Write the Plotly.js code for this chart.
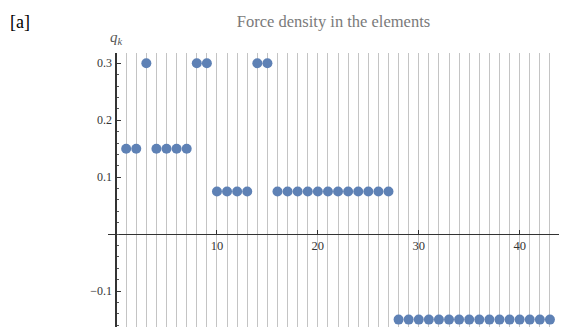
<!DOCTYPE html>
<html>
<head>
<meta charset="utf-8">
<script src="https://cdn.plot.ly/plotly-3.0.1.min.js"></script>
<style>html,body{margin:0;padding:0;background:#fff;}#plot{width:572px;height:327px;}</style>
</head>
<body>
<div id="plot"></div>
<script>
const elements = [1,2,3,4,5,6,7,8,9,10,11,12,13,14,15,16,17,18,19,20,21,22,23,24,25,26,27,28,29,30,31,32,33,34,35,36,37,38,39,40,41,42,43];
const forceDensity = [0.15,0.15,0.3,0.15,0.15,0.15,0.15,0.3,0.3,0.075,0.075,0.075,0.075,0.3,0.3,
  0.075,0.075,0.075,0.075,0.075,0.075,0.075,0.075,0.075,0.075,0.075,0.075,
  -0.15,-0.15,-0.15,-0.15,-0.15,-0.15,-0.15,-0.15,-0.15,-0.15,-0.15,-0.15,-0.15,-0.15,-0.15,-0.15];
const xTicks = [10,20,30,40];
const yTicks = [-0.1,0.1,0.2,0.3];

const xRange = [-0.8, 43.9];
const yRange = [-0.163, 0.318];
const serif = 'Liberation Serif, Times New Roman, DejaVu Serif, serif';

const trace = {
  x: elements, y: forceDensity, mode: 'markers', type: 'scatter',
  marker: {color: '#5E81B5', size: 10}, hoverinfo: 'none'
};

const layout = {
  width: 572, height: 327,
  margin: {l: 108, r: 13, t: 53, b: 0},
  paper_bgcolor: '#fff', plot_bgcolor: '#fff',
  showlegend: false,
  font: {family: serif},
  title: {text: 'Force density in the elements', x: 0.5, xref: 'paper', y: 0.935, yref: 'container', yanchor: 'middle',
    font: {family: serif, size: 16.5, color: '#7a7a7a'}},
  xaxis: {
    range: xRange, anchor: 'free', position: (0 - yRange[0]) / (yRange[1] - yRange[0]),
    tickmode: 'array', tickvals: xTicks, ticktext: xTicks.map(String),
    ticks: 'inside', ticklen: 4, tickcolor: '#333', tickwidth: 1,
    showgrid: true, gridcolor: '#c4c4c4', gridwidth: 1,
    minor: {tick0: 0, dtick: 1, showgrid: true, gridcolor: '#c4c4c4', gridwidth: 1, ticks: ''},
    zeroline: true, zerolinecolor: '#333', zerolinewidth: 1.2,
    showline: false,
    ticklabelstandoff: 2,
    tickfont: {family: serif, size: 12.5, color: '#333'}
  },
  yaxis: {
    range: yRange, anchor: 'free', position: (0 - xRange[0]) / (xRange[1] - xRange[0]),
    tickmode: 'array', tickvals: yTicks, ticktext: ['\u22120.1','0.1','0.2','0.3'],
    ticks: 'inside', ticklen: 4, tickcolor: '#333', tickwidth: 1,
    minor: {tick0: 0, dtick: 0.02, ticks: 'inside', ticklen: 2, tickcolor: '#555', showgrid: false},
    showgrid: false,
    zeroline: true, zerolinecolor: '#333', zerolinewidth: 1.2,
    showline: false,
    ticklabelstandoff: 4,
    tickfont: {family: serif, size: 12, color: '#333'}
  },
  annotations: [
    {text: '[a]', xref: 'paper', yref: 'paper', x: -100/451, y: 1 + 31/274, xanchor: 'left', yanchor: 'middle',
      showarrow: false, font: {family: serif, size: 18, color: '#000'}},
    {text: '<i>q</i><sub><i>k</i></sub>', xref: 'paper', yref: 'paper', x: (0 - xRange[0]) / (xRange[1] - xRange[0]), y: 1 + 15/274,
      xanchor: 'center', yanchor: 'middle', showarrow: false, font: {family: serif, size: 15, color: '#555'}}
  ]
};

Plotly.newPlot('plot', [trace], layout, {staticPlot: true, displayModeBar: false});
</script>
</body>
</html>
